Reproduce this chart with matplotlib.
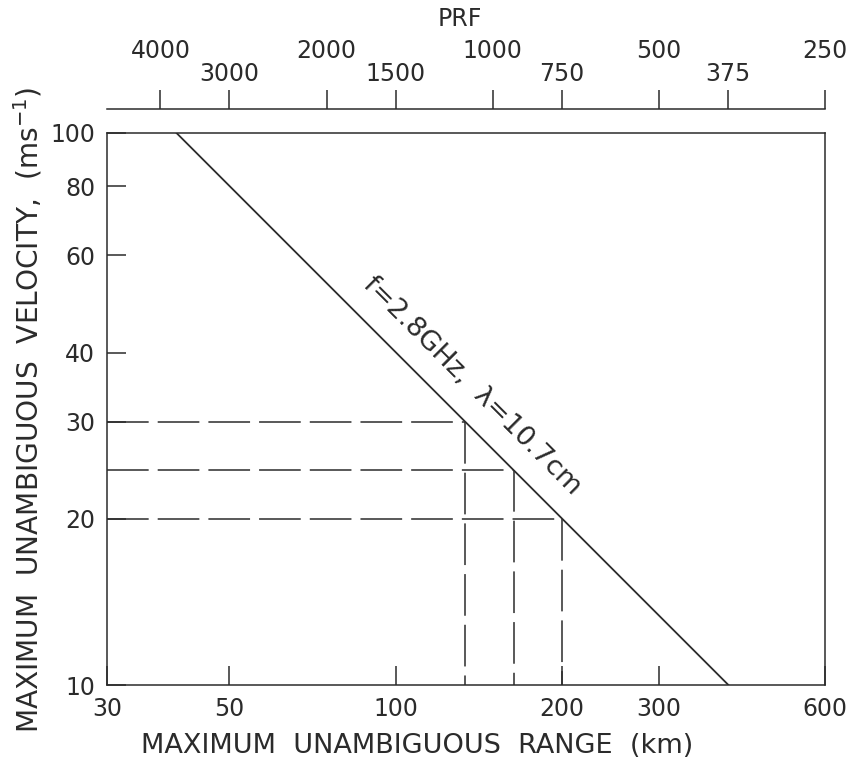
import matplotlib.pyplot as plt
from matplotlib.ticker import FixedLocator, FixedFormatter, NullLocator

# values
range_ticks = [30, 50, 100, 200, 300, 600]          # km (bottom axis)
velocity_ticks = [10, 20, 30, 40, 60, 80, 100]      # m/s (left axis)
prf_upper = [4000, 2000, 1000, 500, 250]            # PRF labels, upper row
prf_lower = [3000, 1500, 750, 375]                  # PRF labels, lower row

# f = 2.8 GHz, lambda = 10.7 cm line  (Vmax * Rmax = c*lambda/8)
line_range = [40.1, 401.0]
line_velocity = [100, 10]

# dashed example cases
case_velocity = [30, 24.5, 20]
case_range = [133.75, 163.8, 200.6]

C_HALF = 150000.0   # c/2 in km/s -> Rmax = C_HALF / PRF

plt.rcParams["font.family"] = "DejaVu Sans"
plt.rcParams["lines.scale_dashes"] = False
ink = "#2b2b2b"

fig = plt.figure(figsize=(8.53, 7.67), dpi=100)
ax = fig.add_axes([0.1254, 0.1069, 0.8418, 0.7197])
ax.set_xscale("log")
ax.set_yscale("log")
ax.set_xlim(range_ticks[0], range_ticks[-1])
ax.set_ylim(velocity_ticks[0], velocity_ticks[-1])

ax.plot(line_range, line_velocity, color=ink, lw=1.3)
for v, r in zip(case_velocity, case_range):
    ax.plot([range_ticks[0], r], [v, v], color=ink, lw=1.1, dashes=(30, 6.5))
    ax.plot([r, r], [v, velocity_ticks[0]], color=ink, lw=1.1, dashes=(30, 6.5))

ax.annotate("f=2.8GHz,  \u03bb=10.7cm", xy=(126.0, 31.85), xytext=(21, 21),
            textcoords="offset pixels", rotation=-45, rotation_mode="anchor",
            ha="center", va="center", fontsize=19.5, color=ink)

ax.xaxis.set_major_locator(FixedLocator(range_ticks))
ax.xaxis.set_major_formatter(FixedFormatter([str(t) for t in range_ticks]))
ax.xaxis.set_minor_locator(NullLocator())
ax.yaxis.set_major_locator(FixedLocator(velocity_ticks))
ax.yaxis.set_major_formatter(FixedFormatter([str(t) for t in velocity_ticks]))
ax.yaxis.set_minor_locator(NullLocator())
ax.tick_params(direction="in", length=13.5, width=1.1, labelsize=17,
               pad=8.5, color=ink, labelcolor=ink, top=False, right=False)
for s in ax.spines.values():
    s.set_linewidth(1.1)
    s.set_color(ink)

ax.set_xlabel("MAXIMUM  UNAMBIGUOUS  RANGE  (km)", fontsize=19.5, color=ink)
ax.xaxis.label.set_va("center")
ax.xaxis.set_label_coords(0.432, -0.1105)
ax.set_ylabel("MAXIMUM  UNAMBIGUOUS  VELOCITY,  (ms$^{-1}$)", fontsize=20.2, color=ink)
ax.yaxis.label.set_va("center")
ax.yaxis.set_label_coords(-0.11, 0.498)

# detached PRF axis above the frame
ax2 = fig.add_axes([0.1254, 0.8579, 0.8418, 0.0001])
ax2.patch.set_visible(False)
for s in ["left", "right", "bottom"]:
    ax2.spines[s].set_visible(False)
ax2.spines["top"].set_linewidth(1.1)
ax2.spines["top"].set_color(ink)
ax2.set_yticks([])
ax2.set_xscale("log")
ax2.set_xlim(C_HALF / range_ticks[0], C_HALF / range_ticks[-1])
ax2.xaxis.set_major_locator(FixedLocator(prf_upper))
ax2.xaxis.set_major_formatter(FixedFormatter([str(p) for p in prf_upper]))
ax2.xaxis.set_minor_locator(FixedLocator(prf_lower))
ax2.xaxis.set_minor_formatter(FixedFormatter([str(p) for p in prf_lower]))
ax2.tick_params(axis="x", which="both", direction="out", length=13.7, width=1.1,
                labelsize=17, color=ink, labelcolor=ink,
                top=True, bottom=False, labeltop=True, labelbottom=False)
ax2.tick_params(axis="x", which="major", pad=19)
ax2.tick_params(axis="x", which="minor", pad=2.5)
ax2.xaxis.set_label_position("top")
ax2.set_xlabel("PRF", fontsize=17, color=ink)
ax2.xaxis.label.set_va("center")
ax2.xaxis.set_label_coords(460 / 853, 1 - 19 / 767, transform=fig.transFigure)

fig.savefig("out.png", dpi=100)
